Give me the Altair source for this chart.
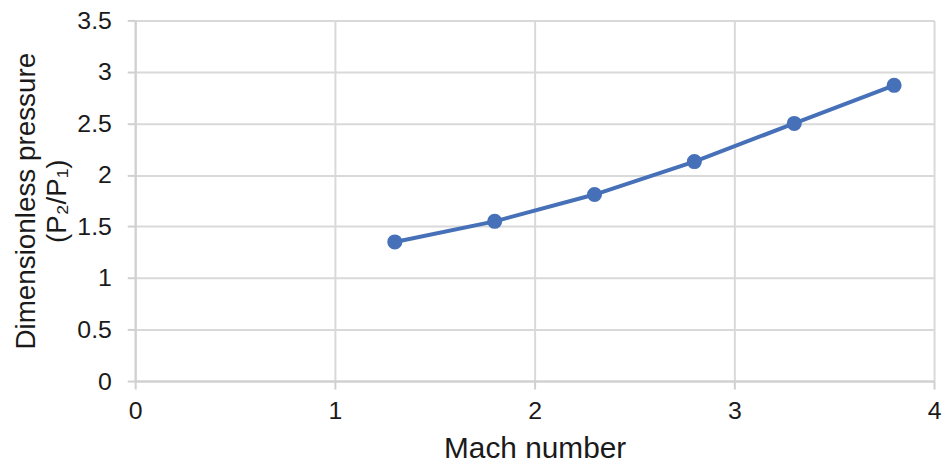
import altair as alt
import pandas as pd

mach = [1.3, 1.8, 2.3, 2.8, 3.3, 3.8]
pressure = [1.35, 1.55, 1.81, 2.13, 2.50, 2.87]
x_ticks = [0, 1, 2, 3, 4]
y_ticks = [0, 0.5, 1, 1.5, 2, 2.5, 3, 3.5]

df = pd.DataFrame({"mach": mach, "p": pressure})

FONT = "Liberation Sans"
COLOR = "#4670b8"
TXT = "#1a1a1a"

x = alt.X("mach:Q", scale=alt.Scale(domain=[0, 4], nice=False),
          axis=alt.Axis(values=x_ticks, title="Mach number", format="~g",
                        grid=True, gridColor="#d9d9d9", gridWidth=2,
                        domainColor="#d0d0d0", domainWidth=2,
                        tickColor="#d0d0d0", tickWidth=2, tickSize=8,
                        labelFontSize=25, labelFont=FONT, labelColor=TXT,
                        labelPadding=10, labelFlush=False,
                        titleFontSize=30, titleFont=FONT, titleFontWeight="normal",
                        titleColor=TXT, titlePadding=10))
y = alt.Y("p:Q", scale=alt.Scale(domain=[0, 3.5], nice=False),
          axis=alt.Axis(values=y_ticks, title=["Dimensionless pressure", "(P₂/P₁)"],
                        format="~g",
                        grid=True, gridColor="#d9d9d9", gridWidth=2,
                        domainColor="#d0d0d0", domainWidth=2,
                        tickColor="#d0d0d0", tickWidth=2, tickSize=8,
                        labelFontSize=25, labelFont=FONT, labelColor=TXT,
                        labelPadding=16, labelFlush=False,
                        titleFontSize=28, titleFont=FONT, titleFontWeight="normal",
                        titleColor=TXT, titlePadding=5, titleLineHeight=32))

line = alt.Chart(df).mark_line(color=COLOR, strokeWidth=4).encode(x=x, y=y)
pts = alt.Chart(df).mark_circle(color=COLOR, size=230, opacity=1).encode(x=x, y=y)

chart = (line + pts).properties(
    width=804, height=363,
    autosize=alt.AutoSizeParams(type="none"),
    padding={"left": 128, "top": 11, "right": 8, "bottom": 82},
).configure_view(stroke=None).configure(background="white")

chart.save("out.html", embed_options={"renderer": "svg", "actions": False})
